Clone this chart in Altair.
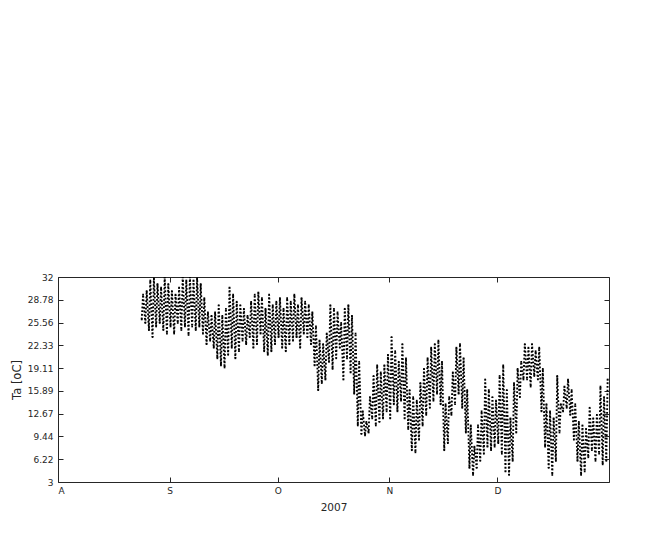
import altair as alt
import pandas as pd

# Daily extremes of air temperature (first day: 2007-08-24)
start_day = "2007-08-24"
tmin = [26, 25.5, 24.5, 23.5, 25, 25.5, 24.5, 24,
        25, 24, 25.5, 24.5, 25, 23.8, 25, 24.5, 25, 24, 22.5, 23, 22, 20.5, 19.5, 19.2,
        21, 22, 20.5, 21.5, 23, 22.5, 23.5, 22, 22.5, 24, 21.5, 21, 21.5, 22.5,
        23.5, 22, 21.5, 22.5, 23, 23.5, 22, 24, 23.5, 22.5, 19.5, 16, 17, 17.5, 20, 19,
        20.5, 22, 17.5, 20.5, 18.5, 15.5, 11, 9.8, 9.6, 10, 12, 11, 11.5, 12, 13,
        12, 14, 13, 14.5, 12, 10.5, 7.5, 7.2, 9, 11, 12.5, 13.5, 14.5, 15.5, 14, 7.5,
        8.5, 12.5, 14, 15.5, 13.5, 10, 5, 4, 5, 6, 7, 8, 7.5, 8,
        8.5, 7, 4.5, 4, 6, 10, 15, 17.5, 17.5, 16.5, 18, 17.5, 13, 8, 5, 4,
        6, 10, 13, 13.5, 12.5, 9, 6, 4, 4.5, 6.5, 7.5, 6, 7, 5.5, 6]
tmax = [29.5, 30, 31.5, 31.8, 31, 30.5, 32, 31,
        30, 29.5, 30.5, 32, 31.5, 32, 31.5, 31.8, 31, 29, 27, 26.5, 27, 28, 26.5, 27.5,
        30.5, 29.5, 28.5, 28, 27.5, 26.5, 28.5, 29.5, 29.8, 29, 27.5, 29.5, 28, 28.5,
        29, 27.5, 29, 28.5, 29.5, 28, 29, 28.5, 28, 27, 25, 23, 22.5, 24, 28, 27.5,
        27, 25.5, 27.5, 28, 26.5, 24, 20, 13, 11.5, 15, 18, 19.5, 18.5, 19.5, 21,
        23.5, 21.5, 20, 22.5, 20.5, 16, 15, 14.5, 17, 19, 20.5, 22, 22.5, 23, 20, 14,
        15, 18.5, 22, 22.5, 20.5, 16, 11, 8, 11, 13, 17.5, 16, 15, 14.5,
        18, 19.5, 16, 12, 17, 19, 20, 22.5, 22, 22.5, 21.5, 22, 19, 14, 13, 12,
        18, 14, 16.5, 17.5, 16, 14, 11.5, 11, 10.5, 13.5, 12, 12.5, 16.5, 15, 17.5]

x_domain = ["2007-08-01", "2008-01-01"]
month_ticks = ["2007-08-01", "2007-09-01", "2007-10-01", "2007-11-01", "2007-12-01"]
month_labels = ["A", "S", "O", "N", "D"]
y_ticks = [3, 6.22, 9.44, 12.67, 15.89, 19.11, 22.33, 25.56, 28.78, 32]

rows = []
base = pd.Timestamp(start_day)
for i, (lo, hi) in enumerate(zip(tmin, tmax)):
    day = base + pd.Timedelta(days=i)
    rows.append({"t": (day + pd.Timedelta(hours=6)).strftime("%Y-%m-%dT%H:%M:%S"), "v": lo})
    rows.append({"t": (day + pd.Timedelta(hours=15)).strftime("%Y-%m-%dT%H:%M:%S"), "v": hi})
df = pd.DataFrame(rows)

def dt(s):
    y, m, d = (int(p) for p in s.split("-"))
    return alt.DateTime(year=y, month=m, date=d)

xscale = alt.Scale(domain=[dt(s) for s in x_domain])
yscale = alt.Scale(domain=[y_ticks[0], y_ticks[-1]], nice=False, zero=False)
label_expr = "[" + ",".join("'%s'" % m for m in month_labels) + "][month(datum.value) - 7]"

ink = "#262626"

line = alt.Chart(df).mark_line(
    color="black", strokeWidth=1.9, strokeDash=[1.8, 1.9], clip=True
).encode(
    x=alt.X("t:T", scale=xscale, title="2007",
            axis=alt.Axis(values=[dt(s) for s in month_ticks], labelExpr=label_expr,
                          orient="bottom", offset=-5, tickSize=5, labelPadding=4,
                          titlePadding=7, titleFontSize=10.5, domain=False, grid=False)),
    y=alt.Y("v:Q", scale=yscale, title="Ta [oC]",
            axis=alt.Axis(values=y_ticks, format=".2~f", orient="left", offset=-5,
                          tickSize=5, labelPadding=5, titlePadding=5,
                          titleFontSize=11.5, domain=False, grid=False)),
)

pts = alt.Chart(df).mark_square(color="black", size=3, opacity=1, clip=True).encode(
    x=alt.X("t:T", scale=xscale, title=None,
            axis=alt.Axis(values=[dt(s) for s in month_ticks], labels=False,
                          orient="top", offset=-5, tickSize=5, domain=False, grid=False)),
    y=alt.Y("v:Q", scale=yscale, title=None,
            axis=alt.Axis(values=y_ticks, labels=False, orient="right", offset=-5,
                          tickSize=5, domain=False, grid=False)),
)

chart = alt.layer(line, pts).resolve_axis(x="independent", y="independent").properties(
    width=551, height=205,
    autosize=alt.AutoSizeParams(type="none"),
    padding={"left": 50, "top": 269, "right": 30, "bottom": 45},
).configure_view(stroke=ink, strokeWidth=1).configure_axis(
    labelFont="DejaVu Sans", labelFontSize=9, labelColor=ink,
    titleFont="DejaVu Sans", titleFontWeight="normal",
    titleColor=ink, tickColor=ink, tickWidth=1,
)

chart.save("out.html", embed_options={"renderer": "svg", "actions": False})
